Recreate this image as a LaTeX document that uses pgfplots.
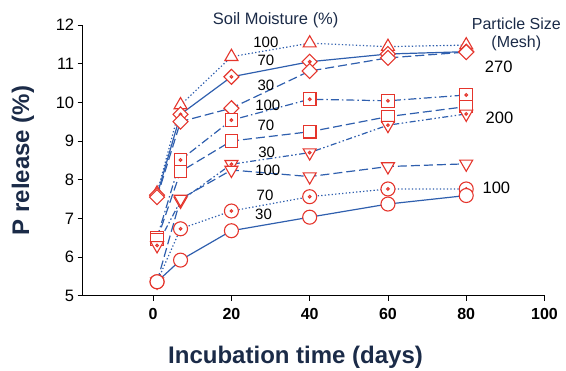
\documentclass[border=0pt]{standalone}
\usepackage{pgfplots}
\pgfplotsset{compat=1.18}
\usepackage{fontspec}
\setmainfont{Liberation Sans}
\definecolor{lblue}{HTML}{2F5FAE}
\definecolor{mred}{HTML}{E5352C}
\definecolor{navy}{HTML}{1B2B48}
\pgfdeclareplotmark{circdot}{\pgfpathcircle{\pgfpointorigin}{\pgfplotmarksize}\pgfusepathqfillstroke\pgfpathcircle{\pgfpointorigin}{1.3pt}\pgfusepathqstroke}
\pgfdeclareplotmark{circ}{\pgfpathcircle{\pgfpointorigin}{\pgfplotmarksize}\pgfusepathqfillstroke}
\pgfdeclareplotmark{dmd}{\pgfpathmoveto{\pgfqpoint{0pt}{\pgfplotmarksize}}\pgfpathlineto{\pgfqpoint{\pgfplotmarksize}{0pt}}\pgfpathlineto{\pgfqpoint{0pt}{-\pgfplotmarksize}}\pgfpathlineto{\pgfqpoint{-\pgfplotmarksize}{0pt}}\pgfpathclose\pgfusepathqfillstroke}
\pgfdeclareplotmark{dmddot}{\pgfpathmoveto{\pgfqpoint{0pt}{\pgfplotmarksize}}\pgfpathlineto{\pgfqpoint{\pgfplotmarksize}{0pt}}\pgfpathlineto{\pgfqpoint{0pt}{-\pgfplotmarksize}}\pgfpathlineto{\pgfqpoint{-\pgfplotmarksize}{0pt}}\pgfpathclose\pgfusepathqfillstroke\pgfpathcircle{\pgfpointorigin}{1.3pt}\pgfusepathqstroke}
\pgfdeclareplotmark{sq}{\pgfpathrectanglecorners{\pgfqpoint{-\pgfplotmarksize}{-\pgfplotmarksize}}{\pgfqpoint{\pgfplotmarksize}{\pgfplotmarksize}}\pgfusepathqfillstroke}
\pgfdeclareplotmark{sqdot}{\pgfpathrectanglecorners{\pgfqpoint{-\pgfplotmarksize}{-\pgfplotmarksize}}{\pgfqpoint{\pgfplotmarksize}{\pgfplotmarksize}}\pgfusepathqfillstroke\pgfpathcircle{\pgfpointorigin}{1.3pt}\pgfusepathqstroke}
\pgfdeclareplotmark{triup}{\pgfpathmoveto{\pgfqpoint{0pt}{\pgfplotmarksize}}\pgfpathlineto{\pgfqpoint{0.866\pgfplotmarksize}{-0.5\pgfplotmarksize}}\pgfpathlineto{\pgfqpoint{-0.866\pgfplotmarksize}{-0.5\pgfplotmarksize}}\pgfpathclose\pgfusepathqfillstroke}
\pgfdeclareplotmark{tridn}{\pgfpathmoveto{\pgfqpoint{0pt}{-\pgfplotmarksize}}\pgfpathlineto{\pgfqpoint{0.866\pgfplotmarksize}{0.5\pgfplotmarksize}}\pgfpathlineto{\pgfqpoint{-0.866\pgfplotmarksize}{0.5\pgfplotmarksize}}\pgfpathclose\pgfusepathqfillstroke}
\pgfdeclareplotmark{tridndot}{\pgfpathmoveto{\pgfqpoint{0pt}{-\pgfplotmarksize}}\pgfpathlineto{\pgfqpoint{0.866\pgfplotmarksize}{0.5\pgfplotmarksize}}\pgfpathlineto{\pgfqpoint{-0.866\pgfplotmarksize}{0.5\pgfplotmarksize}}\pgfpathclose\pgfusepathqfillstroke\pgfpathcircle{\pgfpointorigin}{1.3pt}\pgfusepathqstroke}
\begin{document}
\begin{tikzpicture}
\path[use as bounding box] (-82.7pt,-75.3pt) rectangle (483.3pt,295.7pt);
\begin{axis}[
  scale only axis, width=461.8pt, height=270.7pt,
  xmin=-18, xmax=100, ymin=5, ymax=12,
  axis x line*=bottom, axis y line*=left,
  axis line style={line width=0.9pt},
  xtick={0,20,40,60,80,100}, ytick={5,6,...,12},
  tick style={black, line width=0.9pt},
  tick align=outside, major tick length=5pt,
  /pgf/number format/assume math mode=true,
  xticklabel style={font=\fontsize{16}{18}\selectfont\bfseries, yshift=-4pt},
  yticklabel style={font=\fontsize{16.5}{18}\selectfont},
  xlabel={Incubation time (days)},
  ylabel={P release (\%)},
  xlabel style={font=\fontsize{24}{28}\selectfont\bfseries, text=navy, at={(axis description cs:0.461,-0.2265)}, anchor=center},
  ylabel style={font=\fontsize{24}{28}\selectfont\bfseries, text=navy, at={(axis description cs:-0.1293,0.5)}, anchor=center},
  clip=false,
  every axis plot/.append style={color=lblue, line width=1.2pt, mark options={draw=mred, fill=white, line width=1.1pt, solid}},
]
% 270 mesh
\addplot[dash pattern=on 1.3pt off 2.2pt, mark=triup, mark size=7.5pt] coordinates {(1,7.65) (7,9.93) (20,11.18) (40,11.53) (60,11.44) (80,11.48)};
\addplot[solid, mark=dmddot, mark size=7.5pt] coordinates {(1,7.60) (7,9.69) (20,10.66) (40,11.05) (60,11.25) (80,11.31)};
\addplot[dash pattern=on 9pt off 4pt, mark=dmd, mark size=7.5pt] coordinates {(1,7.55) (7,9.50) (20,9.85) (40,10.81) (60,11.15) (80,11.30)};
% 200 mesh
\addplot[dash pattern=on 8pt off 3pt on 1.5pt off 3pt, mark=sqdot, mark size=6.3pt] coordinates {(1,6.50) (7,8.51) (20,9.54) (40,10.08) (60,10.04) (80,10.19)};
\addplot[dash pattern=on 9pt off 4pt, mark=sq, mark size=6.3pt] coordinates {(1,6.45) (7,8.21) (20,9.00) (40,9.24) (60,9.63) (80,9.89)};
\addplot[dash pattern=on 6pt off 2.5pt on 1.5pt off 2.5pt on 1.5pt off 2.5pt, mark=tridndot, mark size=7.5pt] coordinates {(1,6.30) (7,7.45) (20,8.40) (40,8.70) (60,9.41) (80,9.70)};
% 100 mesh
\addplot[dash pattern=on 9pt off 4pt, mark=tridn, mark size=7.5pt] coordinates {(1,5.36) (7,7.50) (20,8.25) (40,8.08) (60,8.34) (80,8.41)};
\addplot[dash pattern=on 1.3pt off 2.2pt, mark=circdot, mark size=7pt] coordinates {(1,5.36) (7,6.73) (20,7.19) (40,7.56) (60,7.76) (80,7.76)};
\addplot[solid, mark=circ, mark size=7pt] coordinates {(1,5.36) (7,5.92) (20,6.68) (40,7.03) (60,7.37) (80,7.59)};
% labels
\begin{scope}[every node/.style={font=\fontsize{15}{17}\selectfont, text=black, inner sep=0pt}]
\node at (axis cs:28.8,11.55) {100};
\node at (axis cs:28.8,11.08) {70};
\node at (axis cs:28.8,10.45) {30};
\node at (axis cs:29.3,9.91) {100};
\node at (axis cs:28.8,9.41) {70};
\node at (axis cs:29.0,8.72) {30};
\node at (axis cs:29.3,8.25) {100};
\node at (axis cs:28.6,7.59) {70};
\node at (axis cs:28.2,7.11) {30};
\end{scope}
\begin{scope}[every node/.style={font=\fontsize{16.5}{18}\selectfont, inner sep=0pt}]
\node[text=black] at (axis cs:88.3,10.91) {270};
\node[text=black] at (axis cs:88.5,9.61) {200};
\node[text=black] at (axis cs:87.7,7.80) {100};
\node[text=navy, font=\fontsize{16}{18}\selectfont] at (axis cs:92.8,12.03) {Particle Size};
\node[text=navy, font=\fontsize{16}{18}\selectfont] at (axis cs:92.8,11.53) {(Mesh)};
\node[text=navy, font=\fontsize{16.5}{18}\selectfont] at (axis cs:31.3,12.13) {Soil Moisture (\%)};
\end{scope}
\end{axis}
\end{tikzpicture}
\end{document}
